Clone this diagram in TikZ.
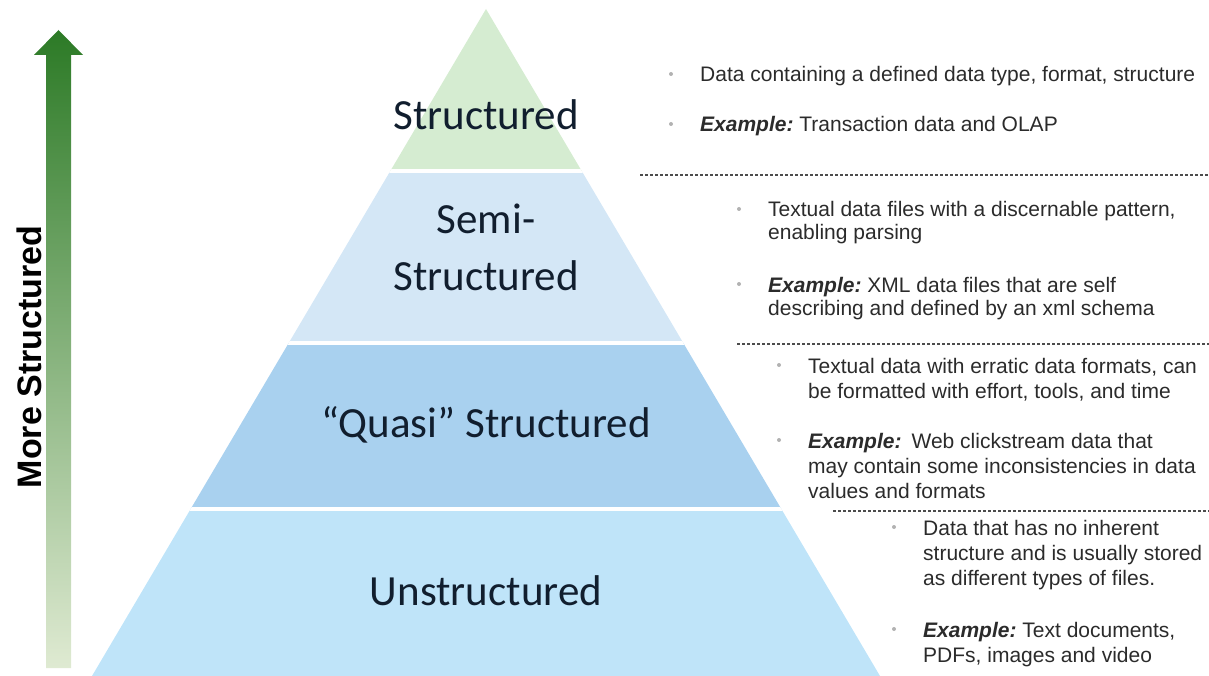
\documentclass[tikz,border=0pt]{standalone}
\usepackage{fontspec}
\setmainfont{Liberation Sans}
\newfontfamily\tierfont{Carlito}
\usetikzlibrary{positioning,calc}

\definecolor{tiergreen}{HTML}{D5ECD1}
\definecolor{tierpale}{HTML}{D4E7F6}
\definecolor{tiermid}{HTML}{A9D1EF}
\definecolor{tierlight}{HTML}{BFE4F9}
\definecolor{tiertext}{HTML}{111E2E}
\definecolor{bodytext}{HTML}{2B2B2B}
\definecolor{arrowdark}{HTML}{2C7A26}
\definecolor{arrowmid}{HTML}{6E9F45}
\definecolor{arrowpale}{HTML}{DFEAD2}

\newcommand{\exlabel}{\textbf{\textit{Example:}}}

\begin{document}
\begin{tikzpicture}[
    x=1pt, y=-1pt,
    tier/.style={font=\tierfont\fontsize{43}{57}\selectfont, text=tiertext, align=center, anchor=base, inner sep=0pt},
    item/.style={font=\fontsize{21}{23}\selectfont, text=bodytext, align=left, anchor=base west, inner sep=0pt},
    loose/.style={font=\fontsize{21}{25}\selectfont},
    dot/.style={circle, fill=gray!60, inner sep=0pt, minimum size=4pt},
    sepline/.style={dash pattern=on 3pt off 2pt, line width=1.3pt, draw=gray!60!black}
]
\useasboundingbox (0,0) rectangle (1209,676);

% ---- pyramid with four tiers ----
\coordinate (apex) at (486,9);
\coordinate (baseL) at (92,676);
\coordinate (baseR) at (880,676);
\begin{scope}
  \clip (apex) -- (baseL) -- (baseR) -- cycle;
  \fill[tiergreen] (0,0) rectangle (1209,171);
  \fill[tierpale] (0,171) rectangle (1209,343);
  \fill[tiermid] (0,343) rectangle (1209,509);
  \fill[tierlight] (0,509) rectangle (1209,676);
  \foreach \y in {171,343,509}
    \draw[white, line width=4pt] (0,\y) -- (1209,\y);
\end{scope}

% labels sit on the baseline of their last line
\node[tier] (structured) at (486,130) {Structured};
\node[tier] (semi) at (486,290) {Semi-\\Structured};
\node[tier] (quasi) at (486,437) {“Quasi” Structured};
\node[tier] (unstructured) at (486,605) {Unstructured};

% ---- green arrow on the left ----
\shade[top color=arrowdark, middle color=arrowmid, bottom color=arrowpale]
  (46,668) -- (46,55) -- (34,55) -- (58.5,30) -- (83,55) -- (71,55) -- (71,668) -- cycle;
\node[rotate=90, font=\bfseries\fontsize{34}{40}\selectfont, text=black] (axis) at (29,357) {More Structured};

% ---- descriptions ----
\node[item] (s1) at (700,82) {Data containing a defined data type, format, structure};
\node[item] (s2) at (700,132) {\exlabel\ Transaction data and OLAP};

\node[item] (m1) at (768,240) {Textual data files with a discernable pattern,\\enabling parsing};
\node[item] (m2) at (768,315) {\exlabel\ XML data files that are self\\describing and defined by an xml schema};

\node[item, loose] (q1) at (808,398) {Textual data with erratic data formats, can\\be formatted with effort, tools, and time};
\node[item, loose] (q2) at (808,498) {\exlabel\hspace{10pt}Web clickstream data that\\may contain some inconsistencies in data\\values and formats};

\node[item, loose] (u1) at (923,585) {Data that has no inherent\\structure and is usually stored\\as different types of files.};
\node[item, loose] (u2) at (923,662) {\exlabel\ Text documents,\\PDFs, images and video};

% bullets beside the first line of each item
\foreach \t/\up in {s1/8, s2/8, m1/31, m2/31, q1/33, q2/58, u1/58, u2/33}
  \node[dot] (dot-\t) at ($(\t.base west)+(-29,-\up)$) {};

% separators
\draw[sepline] (640,175) -- (1209,175);
\draw[sepline] (737,344) -- (1209,344);
\draw[sepline] (833,511) -- (1209,511);

\end{tikzpicture}
\end{document}
